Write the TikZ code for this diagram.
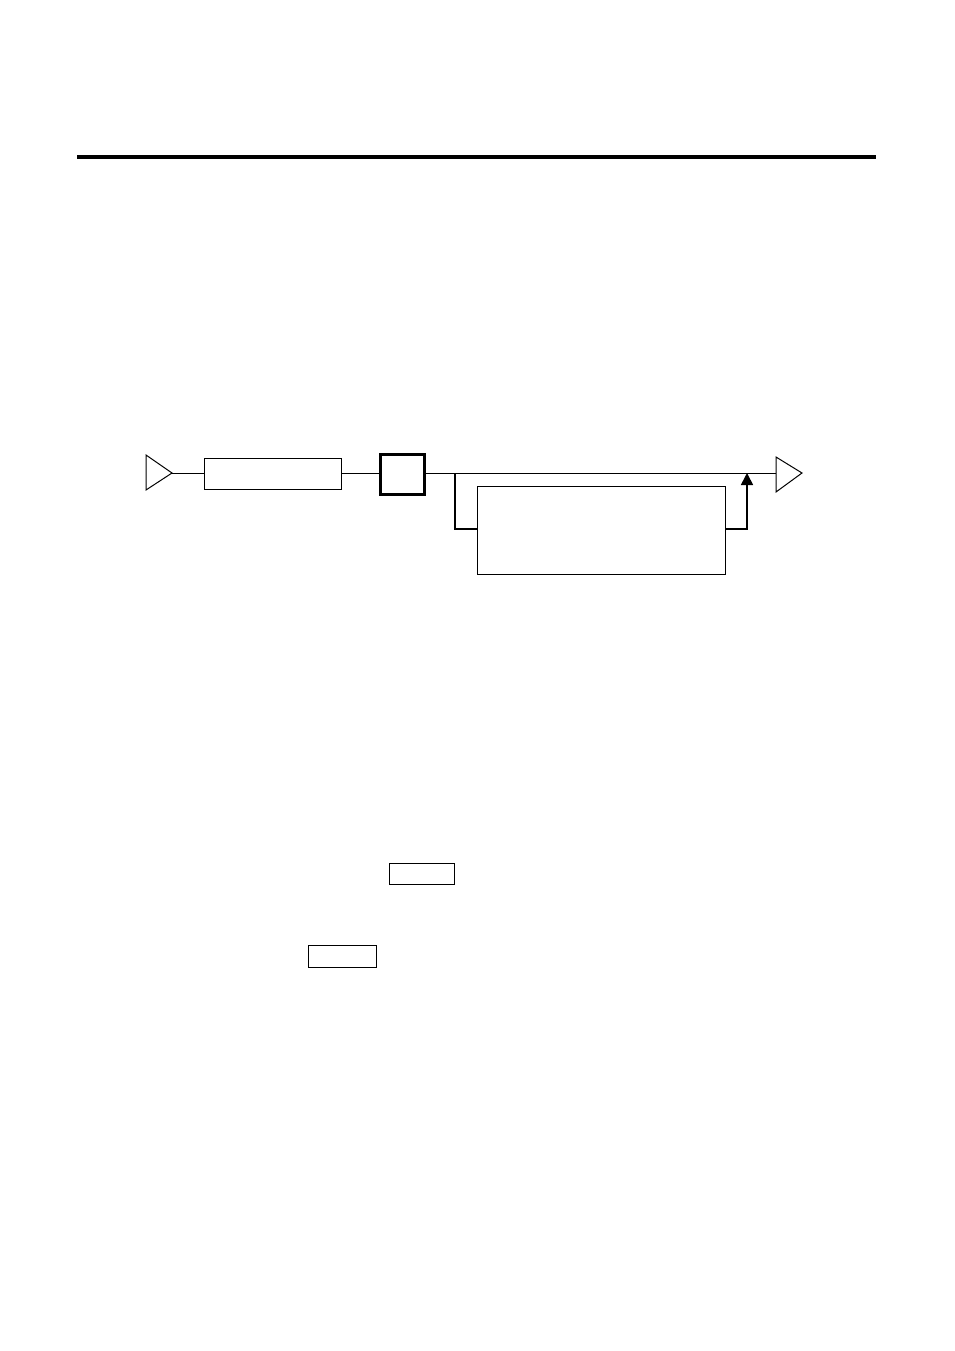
\documentclass[tikz,border=0pt]{standalone}
\usetikzlibrary{arrows.meta}
\begin{document}
\begin{tikzpicture}[x=1pt,y=-1pt,
  wire/.style={line width=1pt},
  branch/.style={line width=1.6pt},
  blockbox/.style={draw,line width=1.5pt,inner sep=0pt,anchor=north west},
  tri/.style={draw,line width=1pt,line join=miter}]
\useasboundingbox (0,0) rectangle (954,1351);
% top rule
\coordinate (ruleL) at (77,157);
\coordinate (ruleR) at (876,157);
\draw[line width=3.5pt] (ruleL) -- (ruleR);
% input triangle
\draw[tri] (146,455) -- (146,490) -- (172,473) -- cycle;
\coordinate (inTip) at (172,473);
% blocks
\node[blockbox,minimum width=137pt,minimum height=31pt] (r1) at (203.5,457.5) {};
\node[blockbox,line width=3pt,minimum width=44pt,minimum height=40pt] (sq) at (379,452.5) {};
\node[blockbox,minimum width=248pt,minimum height=88pt] (big) at (476.5,485.5) {};
% output triangle
\draw[tri] (776,457) -- (776,492) -- (802,473) -- cycle;
\coordinate (outIn) at (776,473);
% wires
\draw[wire] (inTip) -- (inTip -| r1.west);
\draw[wire] (inTip -| r1.east) -- (inTip -| sq.west);
\draw[wire] (inTip -| sq.east) -- (outIn);
\coordinate (brL) at (455,473);
\coordinate (brR) at (747,473);
\draw[branch] (brL) |- (big.west |- 0,529);
\draw[branch,-{Triangle[length=12pt,width=12pt]}] (big.east |- 0,529) -| (brR);
% bottom boxes
\node[blockbox,minimum width=65pt,minimum height=21pt] (bA) at (388.5,862.5) {};
\node[blockbox,minimum width=68pt,minimum height=22pt] (bB) at (307.5,944.5) {};
\end{tikzpicture}
\end{document}
